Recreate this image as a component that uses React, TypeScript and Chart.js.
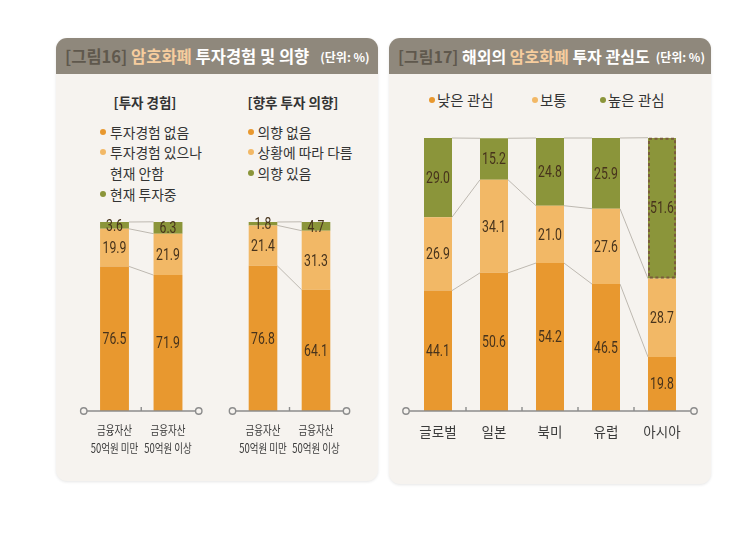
import React, { useEffect, useRef } from "react";
import { Chart, registerables } from "chart.js";

Chart.register(...registerables);

// ---------- data ----------
const expCategories = [["금융자산", "50억원 미만"], ["금융자산", "50억원 이상"]];
const expSeriesNames = ["투자경험 없음", "투자경험 있으나\n현재 안함", "현재 투자중"];
const expNone = [76.5, 71.9];
const expPast = [19.9, 21.9];
const expNow = [3.6, 6.3];

const intentCategories = [["금융자산", "50억원 미만"], ["금융자산", "50억원 이상"]];
const intentSeriesNames = ["의향 없음", "상황에 따라 다름", "의향 있음"];
const intentNone = [76.8, 64.1];
const intentDepends = [21.4, 31.3];
const intentYes = [1.8, 4.7];

const regions = ["글로벌", "일본", "북미", "유럽", "아시아"];
const interestSeriesNames = ["낮은 관심", "보통", "높은 관심"];
const interestLow = [44.1, 50.6, 54.2, 46.5, 19.8];
const interestMid = [26.9, 34.1, 21.0, 27.6, 28.7];
const interestHigh = [29.0, 15.2, 24.8, 25.9, 51.6];
const highlightRegion = "아시아";

// ---------- styles ----------
const C_LOW = "#E8982F";
const C_MID = "#F2B866";
const C_HIGH = "#8B953A";
const PANEL_BG = "#F6F3EF";
const HEADER_BG = "#8F887C";
const KR = '"Noto Sans CJK KR", "Noto Sans", sans-serif';
const NUM = 'Roboto, "DejaVu Sans", sans-serif';

type Series = { data: number[]; color: string };
interface StackProps {
  left: number;
  top: number;
  width: number;
  height: number;
  labels: (string | string[])[];
  series: Series[];
  pad: { left: number; right: number; top: number };
  axisHeight: number;
  barPercentage: number;
  tickSize: number;
  tickLineHeight: number;
  tickPadding: number;
  condensedLabels?: { size: number; lineStep: number; firstOffset: number; scaleX: number };
  highlight?: number;
}

function StackChart(p: StackProps) {
  const ref = useRef<HTMLCanvasElement>(null);
  useEffect(() => {
    const decor = {
      id: "decor",
      beforeDatasetsDraw(chart: any) {
        const ctx = chart.ctx;
        ctx.save();
        ctx.strokeStyle = "#BDB8B0";
        ctx.lineWidth = 1;
        chart.data.datasets.forEach((_: any, d: number) => {
          const meta = chart.getDatasetMeta(d);
          for (let i = 0; i < meta.data.length - 1; i++) {
            const a = meta.data[i];
            const b = meta.data[i + 1];
            ctx.beginPath();
            ctx.moveTo(a.x + a.width / 2, a.y);
            ctx.lineTo(b.x - b.width / 2, b.y);
            ctx.stroke();
          }
        });
        ctx.restore();
      },
      afterDatasetsDraw(chart: any) {
        const ctx = chart.ctx;
        ctx.save();
        // highlight dashed border
        if (p.highlight !== undefined && p.highlight >= 0) {
          const last = chart.data.datasets.length - 1;
          const el = chart.getDatasetMeta(last).data[p.highlight];
          ctx.strokeStyle = "#7A5C3C";
          ctx.lineWidth = 2;
          ctx.setLineDash([3, 2.5]);
          ctx.strokeRect(el.x - el.width / 2 + 1, el.y + 1, el.width - 2, el.base - el.y - 2);
          ctx.setLineDash([]);
        }
        // value labels (condensed digits)
        ctx.font = `17px ${NUM}`;
        ctx.fillStyle = "#47331C";
        ctx.textAlign = "center";
        ctx.textBaseline = "middle";
        chart.data.datasets.forEach((ds: any, d: number) => {
          const meta = chart.getDatasetMeta(d);
          meta.data.forEach((el: any, i: number) => {
            const v = ds.data[i] as number;
            ctx.save();
            ctx.translate(el.x, (el.y + el.base) / 2 + 1);
            ctx.scale(0.72, 1);
            ctx.fillText(v.toFixed(1), 0, 0);
            ctx.restore();
          });
        });
        // axis line
        const { left, right, bottom } = chart.chartArea;
        const xs = chart.scales.x;
        const r = 3.2;
        const x0 = left - 4;
        const x1 = right + 4;
        ctx.strokeStyle = "#8C8C8C";
        ctx.lineWidth = 1.4;
        ctx.beginPath();
        ctx.moveTo(x0 + r, bottom);
        ctx.lineTo(x1 - r, bottom);
        ctx.stroke();
        for (let i = 0; i < p.labels.length - 1; i++) {
          const xb = (xs.getPixelForValue(i) + xs.getPixelForValue(i + 1)) / 2;
          ctx.beginPath();
          ctx.moveTo(xb, bottom);
          ctx.lineTo(xb, bottom - 4);
          ctx.stroke();
        }
        [x0, x1].forEach((cx) => {
          ctx.beginPath();
          ctx.arc(cx, bottom, r, 0, Math.PI * 2);
          ctx.fillStyle = PANEL_BG;
          ctx.fill();
          ctx.stroke();
        });
        // condensed category labels placed on the category scale
        const cl = p.condensedLabels;
        if (cl) {
          ctx.font = `${cl.size}px ${KR}`;
          ctx.fillStyle = "#3A3A3A";
          ctx.textAlign = "center";
          ctx.textBaseline = "middle";
          (chart.data.labels as any[]).forEach((lab: any, i: number) => {
            const lines = Array.isArray(lab) ? lab : [lab];
            const x = xs.getPixelForValue(i);
            lines.forEach((t: string, j: number) => {
              ctx.save();
              ctx.translate(x, bottom + cl.firstOffset + j * cl.lineStep);
              ctx.scale(cl.scaleX, 1);
              ctx.fillText(t, 0, 0);
              ctx.restore();
            });
          });
        }
        ctx.restore();
      },
    };

    const chart = new Chart(ref.current as HTMLCanvasElement, {
      type: "bar",
      data: {
        labels: p.labels as any,
        datasets: p.series.map((s) => ({
          data: s.data,
          backgroundColor: s.color,
          borderWidth: 0,
          barPercentage: p.barPercentage,
          categoryPercentage: 1,
        })),
      },
      options: {
        responsive: false,
        animation: false,
        events: [],
        layout: { padding: { left: p.pad.left, right: p.pad.right, top: p.pad.top, bottom: 0 } },
        plugins: { legend: { display: false }, tooltip: { enabled: false } },
        scales: {
          x: {
            stacked: true,
            grid: { display: false, drawTicks: false },
            border: { display: false },
            ticks: {
              display: !p.condensedLabels,
              autoSkip: false,
              maxRotation: 0,
              minRotation: 0,
              padding: p.tickPadding,
              color: "#3A3A3A",
              font: { family: KR, size: p.tickSize, lineHeight: p.tickLineHeight },
            },
            afterFit: (scale: any) => {
              scale.height = p.axisHeight;
            },
          },
          y: { stacked: true, display: false, min: 0, max: 100 },
        },
      },
      plugins: [decor],
    });
    return () => chart.destroy();
  }, []);
  return (
    <canvas
      ref={ref}
      width={p.width}
      height={p.height}
      style={{ position: "absolute", left: p.left, top: p.top, width: p.width, height: p.height }}
    />
  );
}

function Panel(props: { left: number; top: number; width: number; height: number; children?: React.ReactNode }) {
  return (
    <div
      style={{
        position: "absolute",
        left: props.left,
        top: props.top,
        width: props.width,
        height: props.height,
        background: PANEL_BG,
        borderRadius: 11,
        boxShadow: "0 1px 3px rgba(0,0,0,0.10)",
        overflow: "hidden",
      }}
    >
      {props.children}
    </div>
  );
}

function Header(props: { fig: string; accent: string; before?: string; after: string; size: number; unitGap: number }) {
  return (
    <div
      style={{
        position: "absolute",
        left: 0,
        top: 0,
        right: 0,
        height: 36,
        background: HEADER_BG,
        display: "flex",
        alignItems: "center",
        paddingLeft: 9,
        fontFamily: KR,
        fontWeight: 700,
        fontSize: props.size,
        color: "#FFFFFF",
        whiteSpace: "pre",
      }}
    >
      <span style={{ color: "#5F584D" }}>{props.fig}</span>
      <span>{" "}</span>
      {props.before ? <span>{props.before + " "}</span> : null}
      <span style={{ color: "#F6CD9E" }}>{props.accent}</span>
      <span>{" " + props.after}</span>
      <span style={{ fontSize: 12, marginLeft: props.unitGap }}>(단위: %)</span>
    </div>
  );
}

function Dot(props: { x: number; y: number; color: string; d?: number }) {
  const d = props.d ?? 6;
  return (
    <div
      style={{
        position: "absolute",
        left: props.x - d / 2,
        top: props.y - d / 2,
        width: d,
        height: d,
        borderRadius: "50%",
        background: props.color,
      }}
    />
  );
}

function Txt(props: { x: number; y: number; text: string; size: number; bold?: boolean; center?: boolean }) {
  return (
    <div
      style={{
        position: "absolute",
        left: props.x,
        top: props.y - 10,
        height: 20,
        lineHeight: "20px",
        fontFamily: KR,
        fontSize: props.size,
        fontWeight: props.bold ? 700 : 400,
        color: "#333333",
        whiteSpace: "pre",
        transform: props.center ? "translateX(-50%)" : undefined,
      }}
    >
      {props.text}
    </div>
  );
}

function VLegend(props: { names: string[]; colors: string[]; dotX: number; textX: number; y0: number; step: number; size: number }) {
  const out: React.ReactNode[] = [];
  let line = 0;
  props.names.forEach((name, i) => {
    const parts = name.split("\n");
    out.push(<Dot key={"d" + i} x={props.dotX} y={props.y0 + line * props.step} color={props.colors[i]} />);
    parts.forEach((t, j) => {
      out.push(<Txt key={"t" + i + "_" + j} x={props.textX} y={props.y0 + (line + j) * props.step} text={t} size={props.size} />);
    });
    line += parts.length;
  });
  return <>{out}</>;
}

export default function App() {
  const colors = [C_LOW, C_MID, C_HIGH];
  const hi = regions.indexOf(highlightRegion);
  const condensed = { size: 12.5, lineStep: 18, firstOffset: 19, scaleX: 0.76 };
  return (
    <div style={{ position: "absolute", left: 0, top: 0, width: 745, height: 559, background: "#FFFFFF", overflow: "hidden" }}>
      <Panel left={56} top={38} width={322} height={443}>
        <Header fig="[그림16]" accent="암호화폐" after="투자경험 및 의향" size={16.5} unitGap={11} />
      </Panel>
      <Panel left={389} top={38} width={322} height={446}>
        <Header fig="[그림17]" before="해외의" accent="암호화폐" after="투자 관심도" size={16} unitGap={6} />
      </Panel>

      {/* left legends */}
      <Txt x={145} y={102} text="[투자 경험]" size={13.5} bold center />
      <Txt x={293} y={102} text="[향후 투자 의향]" size={13.5} bold center />
      <VLegend names={expSeriesNames} colors={colors} dotX={103} textX={110} y0={131.5} step={20.8} size={13.8} />
      <VLegend names={intentSeriesNames} colors={colors} dotX={251} textX={257.5} y0={131.5} step={20.8} size={13.8} />

      {/* right legend */}
      {interestSeriesNames.map((n, i) => {
        const dx = [432, 535, 603][i];
        return (
          <React.Fragment key={n}>
            <Dot x={dx} y={100} color={colors[i]} />
            <Txt x={dx + 5} y={100} text={n} size={14.5} />
          </React.Fragment>
        );
      })}

      <StackChart
        left={66}
        top={200}
        width={148}
        height={270}
        labels={expCategories}
        series={[
          { data: expNone, color: C_LOW },
          { data: expPast, color: C_MID },
          { data: expNow, color: C_HIGH },
        ]}
        pad={{ left: 21.75, right: 19.25, top: 22 }}
        axisHeight={59}
        barPercentage={0.54}
        tickSize={10.5}
        tickLineHeight={1.7}
        tickPadding={10}
        condensedLabels={condensed}
      />
      <StackChart
        left={215}
        top={200}
        width={150}
        height={270}
        labels={intentCategories}
        series={[
          { data: intentNone, color: C_LOW },
          { data: intentDepends, color: C_MID },
          { data: intentYes, color: C_HIGH },
        ]}
        pad={{ left: 21.5, right: 22.5, top: 22 }}
        axisHeight={59}
        barPercentage={0.54}
        tickSize={10.5}
        tickLineHeight={1.7}
        tickPadding={10}
        condensedLabels={condensed}
      />
      <StackChart
        left={395}
        top={120}
        width={310}
        height={350}
        labels={regions}
        series={[
          { data: interestLow, color: C_LOW },
          { data: interestMid, color: C_MID },
          { data: interestHigh, color: C_HIGH },
        ]}
        pad={{ left: 15, right: 15, top: 18 }}
        axisHeight={59}
        barPercentage={0.5}
        tickSize={13.5}
        tickLineHeight={1.2}
        tickPadding={13}
        highlight={hi}
      />
    </div>
  );
}
